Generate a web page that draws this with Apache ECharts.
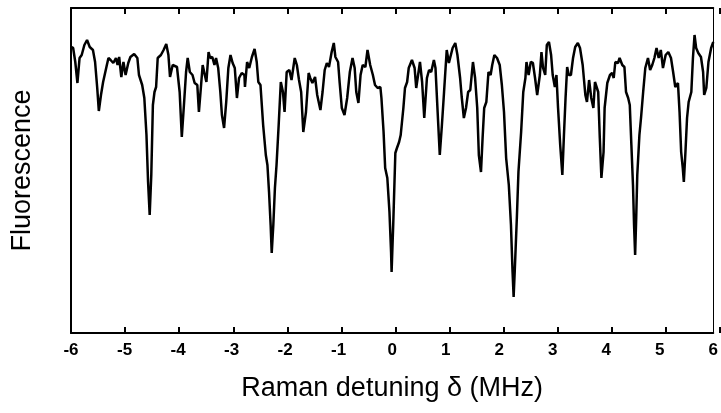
<!DOCTYPE html>
<html lang="en">
<head>
    <meta charset="UTF-8">
    <title>Raman detuning spectrum</title>
    <script src="https://cdn.jsdelivr.net/npm/echarts@6.0.0/dist/echarts.min.js"></script>
    <style>
      body { margin: 0; background: #fff; }
      #chart { width: 721px; height: 413px; }
    </style>
</head>
<body>
<div id="chart"></div>
<script>

// Raman detuning in MHz
const detuning = [
  -6.00, -5.96, -5.92, -5.88, -5.84, -5.80, -5.75, -5.70, -5.65, -5.59, -5.55, -5.51, -5.48, -5.44, -5.40, -5.37,
  -5.33, -5.30, -5.26, -5.21, -5.16, -5.13, -5.10, -5.06, -5.02, -4.98, -4.93, -4.89, -4.82, -4.76, -4.73, -4.67,
  -4.63, -4.59, -4.56, -4.53, -4.50, -4.47, -4.44, -4.41, -4.38, -4.32, -4.27, -4.22, -4.18, -4.15, -4.10, -4.02,
  -3.97, -3.93, -3.89, -3.85, -3.82, -3.78, -3.73, -3.69, -3.64, -3.61, -3.58, -3.54, -3.50, -3.47, -3.43, -3.40,
  -3.36, -3.32, -3.29, -3.25, -3.21, -3.18, -3.14, -3.10, -3.06, -3.02, -2.98, -2.94, -2.90, -2.86, -2.81, -2.76,
  -2.75, -2.71, -2.67, -2.62, -2.57, -2.53, -2.50, -2.46, -2.41, -2.36, -2.33, -2.30, -2.27, -2.25, -2.22, -2.19,
  -2.16, -2.12, -2.08, -2.04, -2.01, -1.97, -1.92, -1.88, -1.82, -1.78, -1.74, -1.70, -1.66, -1.61, -1.56, -1.53,
  -1.49, -1.44, -1.40, -1.34, -1.30, -1.26, -1.22, -1.18, -1.13, -1.09, -1.06, -1.01, -0.98, -0.94, -0.89, -0.84,
  -0.79, -0.74, -0.70, -0.67, -0.63, -0.59, -0.55, -0.50, -0.46, -0.41, -0.36, -0.32, -0.27, -0.22, -0.20, -0.16,
  -0.13, -0.09, -0.05, -0.02, -0.01, 0.02, 0.06, 0.09, 0.13, 0.16, 0.21, 0.24, 0.28, 0.31, 0.37, 0.42,
  0.45, 0.48, 0.52, 0.56, 0.60, 0.65, 0.69, 0.73, 0.78, 0.81, 0.85, 0.89, 0.93, 0.97, 1.02, 1.06,
  1.09, 1.13, 1.18, 1.22, 1.27, 1.30, 1.34, 1.38, 1.42, 1.46, 1.51, 1.55, 1.59, 1.62, 1.66, 1.69,
  1.72, 1.76, 1.80, 1.84, 1.87, 1.91, 1.96, 2.01, 2.05, 2.09, 2.13, 2.18, 2.22, 2.25, 2.27, 2.29,
  2.33, 2.36, 2.41, 2.45, 2.49, 2.51, 2.55, 2.59, 2.63, 2.67, 2.71, 2.76, 2.79, 2.82, 2.86, 2.89,
  2.93, 2.97, 3.00, 3.04, 3.07, 3.10, 3.14, 3.18, 3.21, 3.24, 3.27, 3.30, 3.34, 3.38, 3.42, 3.47,
  3.51, 3.56, 3.61, 3.64, 3.68, 3.72, 3.76, 3.79, 3.82, 3.85, 3.88, 3.91, 3.95, 3.97, 4.02, 4.07,
  4.11, 4.14, 4.17, 4.22, 4.25, 4.30, 4.34, 4.37, 4.41, 4.44, 4.47, 4.50, 4.52, 4.54, 4.56, 4.58,
  4.62, 4.65, 4.69, 4.73, 4.78, 4.82, 4.86, 4.90, 4.94, 4.98, 5.02, 5.06, 5.11, 5.16, 5.21, 5.25,
  5.29, 5.34, 5.37, 5.40, 5.43, 5.45, 5.48, 5.51, 5.54, 5.59, 5.62, 5.65, 5.68, 5.72, 5.77, 5.81,
  5.83, 5.87, 5.91, 5.96, 6.00
]

// fluorescence, arbitrary units (0 = bottom of frame)
const fluorescence = [
  286, 285, 271, 250, 275, 278, 288, 293, 286, 283, 271, 245, 222, 238, 251, 253,
  268, 275, 273, 270, 275, 268, 276, 256, 271, 258, 270, 276, 279, 275, 258, 248,
  235, 198, 151, 118, 158, 228, 241, 246, 275, 278, 283, 289, 278, 256, 268, 266,
  241, 196, 228, 261, 275, 261, 258, 250, 248, 221, 241, 268, 258, 251, 281, 275,
  276, 268, 275, 265, 241, 218, 205, 231, 265, 278, 270, 265, 235, 255, 260, 258,
  246, 271, 265, 276, 284, 271, 251, 248, 208, 178, 168, 141, 108, 80, 108, 145,
  168, 208, 251, 241, 221, 261, 263, 253, 275, 268, 253, 241, 201, 221, 260, 255,
  250, 256, 238, 223, 241, 263, 270, 266, 281, 290, 276, 271, 250, 225, 218, 235,
  261, 275, 265, 241, 230, 258, 268, 266, 283, 268, 258, 248, 245, 246, 235, 201,
  165, 155, 121, 81, 61, 108, 180, 185, 191, 198, 225, 245, 251, 265, 273, 265,
  245, 243, 271, 251, 215, 255, 263, 261, 273, 265, 221, 178, 208, 241, 283, 270,
  270, 285, 290, 278, 255, 236, 215, 225, 241, 243, 271, 255, 225, 178, 161, 195,
  225, 231, 261, 258, 268, 278, 275, 268, 248, 221, 175, 148, 108, 61, 36, 61,
  115, 161, 201, 241, 255, 271, 258, 271, 270, 255, 238, 258, 281, 265, 258, 288,
  291, 278, 258, 246, 258, 225, 188, 158, 198, 235, 266, 258, 258, 275, 286, 290,
  285, 268, 238, 231, 253, 235, 225, 251, 253, 241, 195, 155, 181, 225, 250, 258,
  260, 255, 271, 270, 275, 268, 266, 241, 235, 228, 188, 148, 108, 78, 115, 158,
  198, 215, 241, 265, 275, 263, 268, 275, 285, 275, 283, 265, 278, 281, 275, 261,
  246, 250, 221, 181, 165, 151, 181, 215, 231, 241, 275, 298, 285, 280, 276, 261,
  238, 245, 271, 285, 291
]

const xTicks = [-6, -5, -4, -3, -2, -1, 0, 1, 2, 3, 4, 5, 6]

const points = detuning.map((x, i) => [x, fluorescence[i]])

const myChart = echarts.init(document.getElementById('chart'))

const fontName = 'Liberation Sans, Arial, sans-serif'

// frame line only, no ticks
const frameAxis = (pos, grid) => ({
  type: 'value',
  gridIndex: grid,
  position: pos,
  min: xTicks[0],
  max: xTicks[xTicks.length - 1],
  interval: 1,
  axisLine: { show: true, onZero: false, lineStyle: { color: '#000', width: 2 } },
  axisTick: { show: false },
  axisLabel: { show: false },
  splitLine: { show: false },
})

// ticks pointing into the plot are not drawn here, so the inward ticks come
// from thin helper grids whose outward ticks reach back to the frame
const tickAxis = (pos, grid) => ({
  type: 'value',
  gridIndex: grid,
  position: pos,
  z: 10,
  min: xTicks[0],
  max: xTicks[xTicks.length - 1],
  interval: 1,
  axisLine: { show: false, onZero: false },
  axisTick: { show: true, inside: false, length: 6, lineStyle: { color: '#000', width: 2 } },
  axisLabel: { show: false },
  splitLine: { show: false },
})

const hiddenY = grid => ({
  type: 'value',
  gridIndex: grid,
  min: 0,
  max: 1,
  show: false,
})

const bottomAxis = Object.assign(frameAxis('bottom', 0), {
  name: 'Raman detuning \u03b4 (MHz)',
  nameLocation: 'middle',
  nameGap: 42,
  nameTextStyle: { color: '#000', fontFamily: fontName, fontSize: 27 },
  axisLabel: { margin: 9, color: '#000', fontFamily: fontName, fontWeight: 'bold', fontSize: 17 },
})

const option = {
  animation: false,
  backgroundColor: '#fff',
  grid: [
    { left: 71, right: 1, top: 8, bottom: 80 },
    // strip just above the bottom frame line
    { left: 71, right: 1, top: 317, bottom: 86 },
    // strip just below the top frame line
    { left: 71, right: 1, top: 14, height: 10 },
  ],
  xAxis: [
    bottomAxis,
    frameAxis('top', 0),
    tickAxis('bottom', 1),
    tickAxis('top', 2),
  ],
  yAxis: [
    {
      type: 'value',
      gridIndex: 0,
      min: 0,
      max: 325,
      name: 'Fluorescence',
      nameLocation: 'middle',
      nameGap: 35,
      nameTextStyle: { color: '#000', fontFamily: fontName, fontSize: 27 },
      axisLine: { show: true, onZero: false, lineStyle: { color: '#000', width: 2 } },
      axisTick: { show: false },
      axisLabel: { show: false },
      splitLine: { show: false },
    },
    {
      type: 'value',
      gridIndex: 0,
      position: 'right',
      min: 0,
      max: 325,
      axisLine: { show: true, onZero: false, lineStyle: { color: '#000', width: 1 } },
      axisTick: { show: false },
      axisLabel: { show: false },
      splitLine: { show: false },
    },
    hiddenY(1),
    hiddenY(2),
  ],
  series: [
    {
      type: 'line',
      xAxisIndex: 0,
      yAxisIndex: 0,
      data: points,
      showSymbol: false,
      lineStyle: { color: '#000', width: 2.5 },
      z: 3,
    },
  ],
}

myChart.setOption(option)

</script>
</body>
</html>
